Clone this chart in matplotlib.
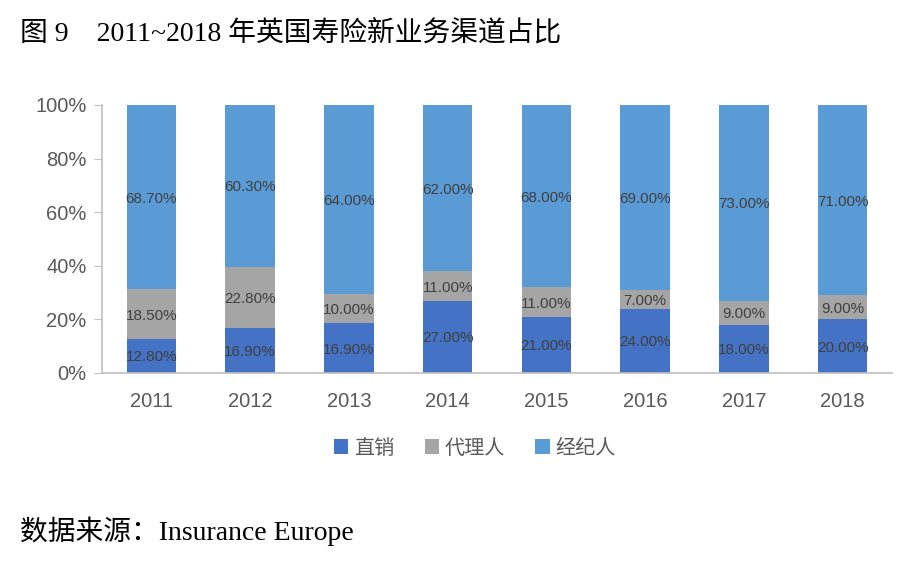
import matplotlib
matplotlib.use("Agg")
import matplotlib.pyplot as plt
import numpy as np

years = ["2011", "2012", "2013", "2014", "2015", "2016", "2017", "2018"]
direct = [12.8, 16.9, 16.9, 27.0, 21.0, 24.0, 18.0, 20.0]
agent = [18.5, 22.8, 10.0, 11.0, 11.0, 7.0, 9.0, 9.0]
broker = [68.7, 60.3, 64.0, 62.0, 68.0, 69.0, 73.0, 71.0]
series_names = ["直销", "代理人", "经纪人"]
colors = ["#4472C4", "#A5A5A5", "#5B9BD5"]

plt.rcParams['font.family'] = ['Liberation Sans', 'Noto Sans CJK SC']

fig = plt.figure(figsize=(9.16, 5.61), dpi=100)
ax = fig.add_axes([102/916, 1-373/561, 790/916, 268/561])

x = np.arange(len(years))
totals = np.array(direct) + np.array(agent) + np.array(broker)
bottom = np.zeros(len(years))
for vals, name, c in zip([direct, agent, broker], series_names, colors):
    raw = np.array(vals)
    share = raw / totals * 100  # 100% stacked
    ax.bar(x, share, 0.5, bottom=bottom, color=c, label=name)
    for xi, b, s, v in zip(x, bottom, share, raw):
        ax.text(xi, b + s/2 - 0.6, f"{v:.2f}%", ha='center', va='center',
                fontsize=11, color='#404040')
    bottom = bottom + share

ax.set_xlim(-0.5, len(years)-0.5)
ax.set_ylim(0, 100)
ax.set_yticks(np.arange(0, 101, 20))
ax.set_yticklabels([f"{v}%" for v in range(0, 101, 20)])
ax.set_xticks(x)
ax.set_xticklabels(years)
ax.tick_params(axis='x', labelsize=14.5, colors='#595959', length=0, pad=14)
ax.tick_params(axis='y', labelsize=14.5, colors='#595959', length=6,
               direction='out', color='#BFBFBF', pad=5)
for s in ['top', 'right']:
    ax.spines[s].set_visible(False)
for s in ['left', 'bottom']:
    ax.spines[s].set_color('#BFBFBF')
    ax.spines[s].set_linewidth(1.2)

leg = fig.legend(loc='center', bbox_to_anchor=(475/916, 1-448/561), ncol=3,
                 frameon=False, fontsize=14.5, handlelength=0.7, handleheight=0.7,
                 handletextpad=0.3, columnspacing=1.5)
for t in leg.get_texts():
    t.set_color('#595959')

fig.text(20/916, 1-34/561, "图 9    2011~2018 年英国寿险新业务渠道占比", fontsize=20,
         family=['Liberation Serif', 'Noto Sans CJK SC'], va='center', ha='left')
fig.text(20/916, 1-531/561, "数据来源：Insurance Europe", fontsize=20,
         family=['Liberation Serif', 'Noto Sans CJK SC'], va='center', ha='left')

fig.savefig("out.png", dpi=100)
